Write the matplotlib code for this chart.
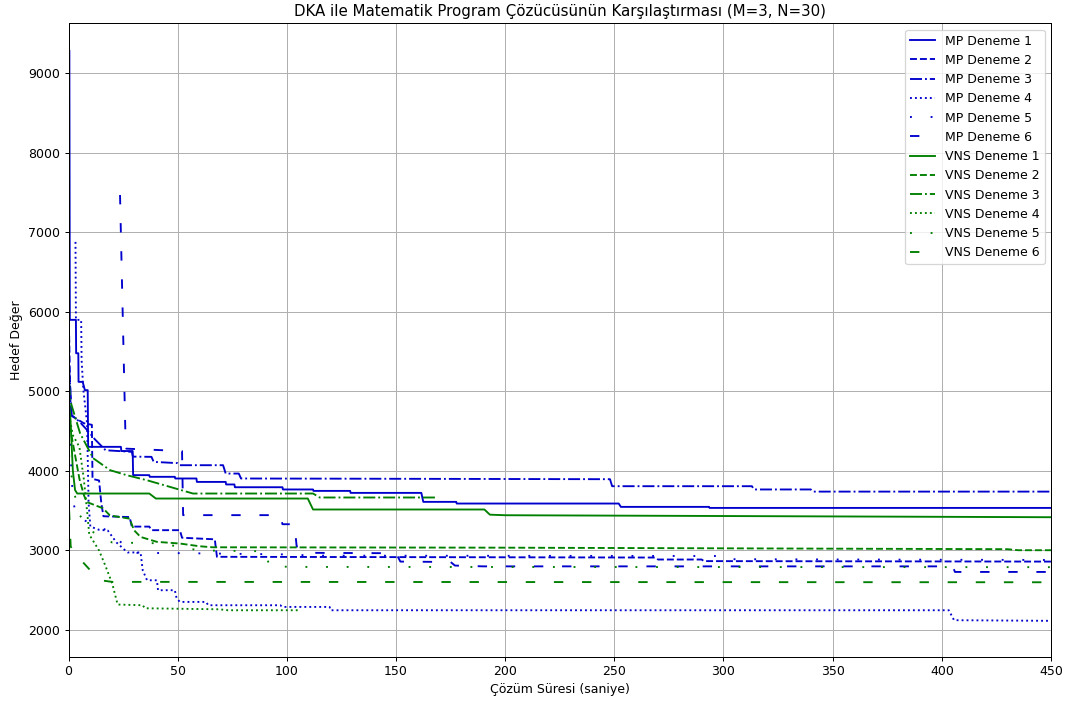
import matplotlib
matplotlib.use("Agg")
import matplotlib.pyplot as plt

# ---- data (time in seconds, objective value) ----
mp1_t = [0.4, 0.6, 3.4, 3.5, 4.5, 4.6, 6.5, 7.5, 8.8, 9.0, 24, 24.2, 29.4, 29.6, 37, 37.2, 48.7, 48.9,
         58.6, 58.8, 72, 72.2, 76, 76.2, 98, 98.2, 112, 112.2, 129, 129.2, 161.6, 162.5, 177.6, 177.8,
         252, 253, 293.4, 293.6, 450]
mp1_v = [9280, 5900, 5900, 5480, 5480, 5120, 5120, 5016, 5016, 4303, 4303, 4250, 4250, 3947, 3947, 3926,
         3926, 3905, 3905, 3862, 3862, 3830, 3830, 3795, 3795, 3767, 3767, 3749, 3749, 3724, 3724, 3611,
         3611, 3590, 3590, 3548, 3548, 3535, 3535]

mp2_t = [0.3, 1, 7, 10.7, 11, 14, 15, 16, 28, 29, 37, 38, 51, 52, 67, 68, 269, 270, 290, 291, 450]
mp2_v = [5700, 4700, 4600, 4580, 3900, 3880, 3600, 3430, 3420, 3300, 3300, 3255, 3255, 3160, 3140, 2920,
         2911, 2886, 2886, 2866, 2860]

mp3_t = [0.3, 1.5, 5, 9, 12, 17, 29, 29.5, 38, 39, 50, 51, 70.8, 72, 78, 79, 248, 249, 313, 314, 340, 341, 450]
mp3_v = [5300, 4700, 4620, 4500, 4400, 4260, 4240, 4180, 4177, 4114, 4098, 4072, 4072, 3967, 3967, 3905,
         3896, 3808, 3808, 3767, 3767, 3740, 3740]

mp4_t = [3.2, 3.4, 5.8, 6, 6.8, 8.5, 9.2, 10, 14, 18, 22, 27, 33, 34, 36, 40.5, 41, 48.7, 49.5, 51, 63,
         64, 97, 98, 119.6, 120, 403.2, 405.6, 450]
mp4_v = [6880, 5900, 5900, 5393, 5020, 4600, 3600, 3300, 3260, 3250, 3100, 2975, 2975, 2750, 2625,
         2625, 2500, 2500, 2400, 2353, 2353, 2311, 2311, 2290, 2290, 2248, 2248, 2123, 2115]

mp5_t = [0.3, 2, 3.8, 17, 30, 55, 100, 112, 300, 302, 450]
mp5_v = [4600, 3630, 3420, 3260, 2970, 2965, 2950, 2935, 2930, 2890, 2880]

mp6_t = [23.6, 26.2, 26.5, 52, 52.5, 97, 98, 103.5, 104.5, 112, 150, 152, 175, 177, 190,
         405, 406, 450]
mp6_v = [7470, 4300, 4280, 4250, 3444, 3444, 3330, 3330, 3050, 2970, 2965, 2860,
         2855, 2810, 2800, 2800, 2730, 2730]

vns1_t = [0.3, 0.8, 2, 3, 4, 37, 40, 109.6, 112, 190.5, 193, 200, 450]
vns1_v = [4850, 4700, 4000, 3760, 3716, 3716, 3653, 3653, 3515, 3515, 3450, 3443, 3418]

vns2_t = [0.3, 1, 3, 5, 7, 8.3, 15.8, 19, 28, 30, 33, 40.5, 51, 60, 66, 200, 430, 435, 450]
vns2_v = [4700, 4500, 4200, 3900, 3700, 3610, 3530, 3440, 3400, 3255, 3170, 3108, 3087, 3053, 3040, 3035,
          3016, 3003, 3003]

vns3_t = [0.3, 0.7, 5.3, 11.3, 19, 26.6, 35.8, 46.4, 57, 112, 115, 168.4]
vns3_v = [5100, 4890, 4474, 4160, 4010, 3947, 3884, 3800, 3716, 3716, 3666, 3666]

vns4_t = [0.3, 2, 5, 7, 8.5, 9.5, 14, 17, 20, 22.5, 34, 35, 69, 73, 106]
vns4_v = [4700, 4450, 4300, 3900, 3500, 3200, 3000, 2800, 2587, 2320, 2311, 2273, 2260, 2248, 2248]

vns5_t = [0.3, 2, 5, 10, 20, 42, 60, 90, 92, 101, 450]
vns5_v = [4200, 3800, 3450, 3250, 3100, 3090, 3000, 2990, 2810, 2793, 2790]

vns6_t = [0.3, 1, 3, 7, 13, 16, 20, 450]
vns6_v = [3500, 3050, 2960, 2840, 2660, 2620, 2605, 2600]

mp_series = [(mp1_t, mp1_v), (mp2_t, mp2_v), (mp3_t, mp3_v), (mp4_t, mp4_v), (mp5_t, mp5_v), (mp6_t, mp6_v)]
vns_series = [(vns1_t, vns1_v), (vns2_t, vns2_v), (vns3_t, vns3_v), (vns4_t, vns4_v), (vns5_t, vns5_v),
              (vns6_t, vns6_v)]
styles = ['-', '--', '-.', ':', (0, (1, 10)), (0, (5, 10))]

DPI = 90
fig = plt.figure(figsize=(1074 / DPI, 704 / DPI), dpi=DPI)
ax = fig.add_axes([68.5 / 1074, 1 - 656.7 / 704, (1051 - 68.5) / 1074, (656.7 - 23.3) / 704])

for i, (t, v) in enumerate(mp_series):
    ax.plot(t, v, color='mediumblue', linestyle=styles[i], linewidth=1.5, label=f'MP Deneme {i + 1}')
for i, (t, v) in enumerate(vns_series):
    ax.plot(t, v, color='green', linestyle=styles[i], linewidth=1.5, label=f'VNS Deneme {i + 1}')

ax.set_xlim(0, 450)
ax.set_ylim(1664, 9629)
ax.set_title('DKA ile Matematik Program Çözücüsünün Karşılaştırması (M=3, N=30)', fontsize=12)
ax.set_xlabel('Çözüm Süresi (saniye)')
ax.set_ylabel('Hedef Değer')
ax.grid(True)
ax.legend(loc='upper right')

fig.savefig('out.png', dpi=DPI)
